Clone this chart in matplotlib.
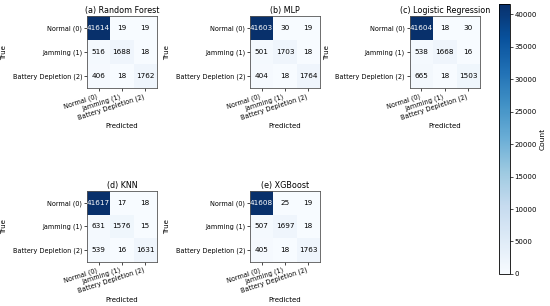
import numpy as np
import matplotlib
matplotlib.use("Agg")
import matplotlib.pyplot as plt

labels = ["Normal (0)", "Jamming (1)", "Battery Depletion (2)"]
titles = ["(a) Random Forest", "(b) MLP", "(c) Logistic Regression", "(d) KNN", "(e) XGBoost"]

cm_rf = [[41614, 19, 19], [516, 1688, 18], [406, 18, 1762]]
cm_mlp = [[41603, 30, 19], [501, 1703, 18], [404, 18, 1764]]
cm_lr = [[41604, 18, 30], [538, 1668, 16], [665, 18, 1503]]
cm_knn = [[41617, 17, 18], [631, 1576, 15], [539, 16, 1631]]
cm_xgb = [[41608, 25, 19], [507, 1697, 18], [405, 18, 1763]]
matrices = [cm_rf, cm_mlp, cm_lr, cm_knn, cm_xgb]

fig = plt.figure(figsize=(5.5, 3.06), dpi=100)

# axes boxes in figure fractions (left, bottom, width, height)
boxes = [
    (0.158, 0.712, 0.127, 0.235),
    (0.4545, 0.712, 0.127, 0.235),
    (0.745, 0.712, 0.127, 0.235),
    (0.158, 0.144, 0.127, 0.232),
    (0.4545, 0.144, 0.127, 0.232),
]

vmax = max(np.max(m) for m in matrices)
im = None
for cm, title, box in zip(matrices, titles, boxes):
    ax = fig.add_axes(box)
    cm = np.array(cm)
    im = ax.imshow(cm, cmap="Blues", vmin=0, vmax=vmax, aspect="auto")
    for i in range(3):
        for j in range(3):
            c = "white" if cm[i, j] > vmax / 2 else "black"
            ax.text(j, i, str(cm[i, j]), ha="center", va="center", color=c, fontsize=5.2)
    ax.set_xticks(range(3))
    ax.set_yticks(range(3))
    ax.set_xticklabels(labels, rotation=18, ha="right", fontsize=4.7)
    ax.set_yticklabels(labels, fontsize=4.7)
    ax.tick_params(length=2, width=0.5, pad=1.5)
    ax.set_title(title, fontsize=5.8, pad=2)
    ax.set_xlabel("Predicted", fontsize=5, labelpad=2)
    ax.set_ylabel("True", fontsize=5, labelpad=4)
    for s in ax.spines.values():
        s.set_linewidth(0.6)
        s.set_color("#555555")

cax = fig.add_axes((0.907, 0.105, 0.02, 0.882))
cb = fig.colorbar(im, cax=cax)
cb.set_ticks(np.arange(0, 40001, 5000))
cb.ax.tick_params(labelsize=5, length=2, width=0.5, pad=1.5)
cb.set_label("Count", fontsize=5.4, labelpad=2)
cb.outline.set_linewidth(0.6)

fig.savefig("out.png", dpi=100)
